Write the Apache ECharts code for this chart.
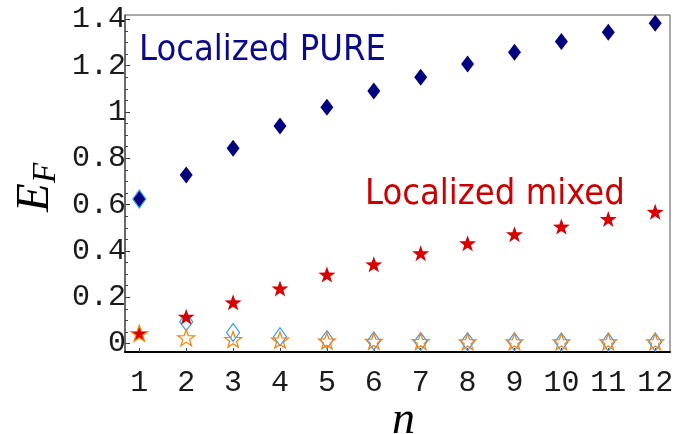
<!DOCTYPE html>
<html>
<head>
<meta charset="utf-8">
<script src="https://cdn.jsdelivr.net/npm/echarts@6/dist/echarts.min.js"></script>
<style>
  html, body { margin: 0; padding: 0; background: #fff; }
  #chart { width: 677px; height: 434px; }
</style>
</head>
<body>
<div id="chart"></div>
<script>
// Number of sites n
const nValues = [1, 2, 3, 4, 5, 6, 7, 8, 9, 10, 11, 12];

// Fermi energy E_F for each configuration
const localizedPure  = [0.624, 0.728, 0.843, 0.940, 1.020, 1.091, 1.150, 1.207, 1.258, 1.304, 1.345, 1.383];
const localizedMixed = [0.044, 0.116, 0.178, 0.238, 0.298, 0.342, 0.390, 0.433, 0.472, 0.505, 0.538, 0.569];
const delocalizedPure  = [0.624, 0.094, 0.048, 0.029, 0.016, 0.011, 0.009, 0.008, 0.008, 0.006, 0.006, 0.006];
const delocalizedMixed = [0.044, 0.025, 0.018, 0.015, 0.011, 0.010, 0.009, 0.008, 0.008, 0.008, 0.008, 0.008];

// Axis ticks and labels
const yTickValues = [0, 0.2, 0.4, 0.6, 0.8, 1, 1.2, 1.4];
const yTickLabels = ['0', '0.2', '0.4', '0.6', '0.8', '1', '1.2', '1.4'];
const xTickValues = nValues;

const yMinorTicks = [];
for (let k = 0; k <= 28; k++) yMinorTicks.push(+(k * 0.05).toFixed(2));

const STAR = 'path://M50 0 L61.76 33.82 L97.55 34.55 L69.02 56.18 L79.39 90.45 L50 70 L20.61 90.45 L30.98 56.18 L2.45 34.55 L38.24 33.82 Z';

const toPairs = ys => nValues.map((n, i) => [n, ys[i]]);

const chart = echarts.init(document.getElementById('chart'), null, { renderer: 'canvas' });

const tickFont = { fontFamily: 'Liberation Mono', fontSize: 30, color: '#1a1a1a' };

chart.setOption({
  animation: false,
  backgroundColor: '#ffffff',
  grid: {
    left: 125, right: 7, top: 15, bottom: 82,
    show: true, borderColor: '#555', borderWidth: 1
  },
  xAxis: {
    type: 'value',
    min: 0.695, max: 12.316,
    axisLine: { show: true, onZero: false, lineStyle: { color: '#000', width: 2 } },
    axisTick: { show: true, inside: true, length: 4, customValues: xTickValues, lineStyle: { color: '#444' } },
    axisLabel: Object.assign({ customValues: xTickValues, margin: 16 }, tickFont),
    splitLine: { show: false }
  },
  yAxis: [
    {
      type: 'value',
      min: -0.0367, max: 1.419,
      axisLine: { show: true, onZero: false, lineStyle: { color: '#555', width: 1.5 } },
      axisTick: { show: true, inside: true, length: 5, customValues: yTickValues, lineStyle: { color: '#333' } },
      axisLabel: Object.assign({
        customValues: yTickValues,
        margin: -1,
        padding: [6, 0, 0, 0],
        formatter: v => yTickLabels[yTickValues.findIndex(t => Math.abs(t - v) < 1e-6)] || ''
      }, tickFont),
      splitLine: { show: false }
    },
    {
      type: 'value',
      position: 'left',
      min: -0.0367, max: 1.419,
      axisLine: { show: false },
      axisTick: { show: true, inside: true, length: 3, customValues: yMinorTicks, lineStyle: { color: '#444' } },
      axisLabel: { show: false },
      splitLine: { show: false }
    }
  ],
  series: [
    {
      name: 'Localized PURE',
      type: 'scatter',
      data: toPairs(localizedPure),
      symbol: 'diamond',
      symbolSize: [13, 17],
      itemStyle: { color: '#00007f', opacity: 1 }
    },
    {
      name: 'Delocalized PURE',
      type: 'scatter',
      data: toPairs(delocalizedPure),
      symbol: 'diamond',
      symbolSize: [13, 18],
      itemStyle: { color: 'rgba(0,0,0,0)', borderColor: '#3399ff', borderWidth: 1.2, opacity: 1 }
    },
    {
      name: 'Localized mixed',
      type: 'scatter',
      data: toPairs(localizedMixed),
      symbol: STAR,
      symbolSize: [17, 16],
      itemStyle: { color: '#d80000', opacity: 1 }
    },
    {
      name: 'Delocalized mixed',
      type: 'scatter',
      data: toPairs(delocalizedMixed),
      symbol: STAR,
      symbolSize: [17, 16],
      itemStyle: { color: 'rgba(0,0,0,0)', borderColor: '#ff8000', borderWidth: 1.2, opacity: 1 }
    }
  ],
  graphic: [
    {
      type: 'text', left: 139, top: 33, silent: true,
      style: { text: 'Localized PURE', fill: '#0a0a8c', font: '36px "DejaVu Sans Condensed", "DejaVu Sans", sans-serif' }
    },
    {
      type: 'text', left: 365, top: 177, silent: true,
      style: { text: 'Localized mixed', fill: '#cc0000', font: '36px "DejaVu Sans Condensed", "DejaVu Sans", sans-serif' }
    },
    {
      type: 'text', x: 392, y: 398, silent: true,
      style: { text: 'n', fill: '#000', font: 'italic 46px "Liberation Serif", serif' }
    },
    {
      type: 'text', x: 12, y: 212, rotation: Math.PI / 2, silent: true,
      style: { text: 'E', fill: '#000', font: 'italic 47px "Liberation Serif", serif', textVerticalAlign: 'top' }
    },
    {
      type: 'text', x: 30, y: 183, rotation: Math.PI / 2, silent: true,
      style: { text: 'F', fill: '#000', font: 'italic 33px "Liberation Serif", serif', textVerticalAlign: 'top' }
    }
  ]
});
</script>
</body>
</html>
